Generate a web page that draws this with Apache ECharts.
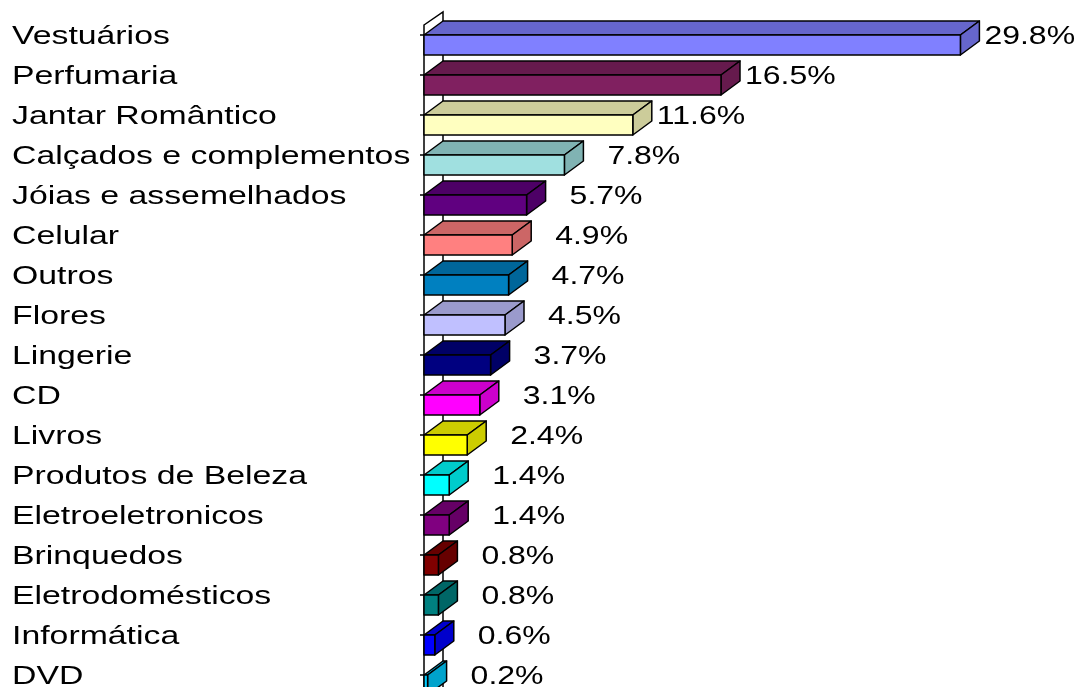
<!DOCTYPE html>
<html>
<head>
<meta charset="utf-8">
<script src="https://cdn.jsdelivr.net/npm/echarts@6/dist/echarts.min.js"></script>
<style>
html,body{margin:0;padding:0;background:#fff;}
#c{width:1083px;height:687px;}
</style>
</head>
<body>
<div id="c"></div>
<script>
const categories = ["Vestuários","Perfumaria","Jantar Romântico","Calçados e complementos","Jóias e assemelhados","Celular","Outros","Flores","Lingerie","CD","Livros","Produtos de Beleza","Eletroeletronicos","Brinquedos","Eletrodomésticos","Informática","DVD"];
const values = [29.8,16.5,11.6,7.8,5.7,4.9,4.7,4.5,3.7,3.1,2.4,1.4,1.4,0.8,0.8,0.6,0.2];
const colors = ["#8080FF","#802060","#FFFFC0","#A0E0E0","#600080","#FF8080","#0080C0","#C0C0FF","#000080","#FF00FF","#FFFF00","#00FFFF","#800080","#800000","#008080","#0000FF","#00CCFF"];

function shade(hex, f){
  const n = parseInt(hex.slice(1),16);
  const r = Math.round(((n>>16)&255)*f), g = Math.round(((n>>8)&255)*f), b = Math.round((n&255)*f);
  return 'rgb('+r+','+g+','+b+')';
}
const DX = 19, DY = 14, HALF = 10, SHIFT = 20;
const FONT = '26px "Liberation Sans", Arial, sans-serif';

const chart = echarts.init(document.getElementById('c'), null, {renderer:'canvas'});

function renderWall(params, api){
  const idx = api.value(1);
  const p = api.coord([0, idx]);
  const x0 = p[0], yc = p[1] + SHIFT;
  const children = [];
  if (idx === 0) {
    children.push({
      type:'polygon', z2:0,
      shape:{points:[[x0, yc-HALF-DY+4],[x0+DX, yc-HALF-DY-9],[x0+DX, 720],[x0, 720]]},
      style:{fill:'#fff', stroke:'#000', lineWidth:1.5}
    });
  }
  children.push({
    type:'line', z2:1,
    shape:{x1:x0-4, y1:yc-HALF, x2:x0+2, y2:yc-HALF},
    style:{stroke:'#000', lineWidth:1.5}
  });
  return {type:'group', children};
}

function renderBar(params, api){
  const v = api.value(0), idx = api.value(1);
  const p0 = api.coord([0, idx]);
  const p1 = api.coord([v, idx]);
  const x0 = p0[0], x1 = p1[0], yc = p0[1] + SHIFT;
  const col = colors[idx];
  const dark = shade(col, 0.8);
  const stroke = {stroke:'#000', lineWidth:1.5, lineJoin:'round'};
  const gap = v > 10 ? 5 : 24;
  return {type:'group', children:[
    {type:'polygon', shape:{points:[[x0,yc-HALF],[x1,yc-HALF],[x1+DX,yc-HALF-DY],[x0+DX,yc-HALF-DY]]}, style:Object.assign({fill:dark}, stroke)},
    {type:'polygon', shape:{points:[[x1,yc-HALF],[x1+DX,yc-HALF-DY],[x1+DX,yc+HALF-DY],[x1,yc+HALF]]}, style:Object.assign({fill:dark}, stroke)},
    {type:'rect', shape:{x:x0, y:yc-HALF, width:x1-x0, height:HALF*2}, style:Object.assign({fill:col}, stroke)},
    {type:'text', x:x1+DX+gap, y:yc-8, scaleX:1.23,
      style:{text: v.toFixed(1)+'%', font:FONT, fill:'#000', textAlign:'left', textVerticalAlign:'middle'}},
    {type:'text', x:12, y:yc-8, scaleX:1.30,
      style:{text: categories[idx], font:FONT, fill:'#000', textAlign:'left', textVerticalAlign:'middle'}}
  ]};
}

const seriesData = values.map((v,i)=>[v,i]);

chart.setOption({
  animation:false,
  grid:{left:424, top:5, width:630, height:680},
  xAxis:{type:'value', min:0, max:35, show:false},
  yAxis:{type:'category', data:categories, inverse:true, show:false},
  series:[
    {type:'custom', z:1, renderItem:renderWall, data:seriesData, encode:{x:0,y:1}, clip:false},
    {type:'custom', z:2, renderItem:renderBar, data:seriesData, encode:{x:0,y:1}, clip:false}
  ]
});
</script>
</body>
</html>
